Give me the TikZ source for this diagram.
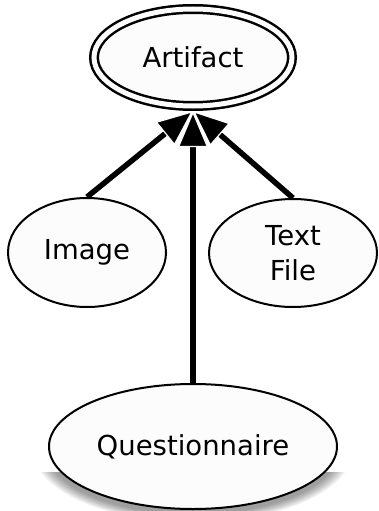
\documentclass[tikz,border=0pt]{standalone}
\usepackage{fontspec}
\setmainfont{DejaVu Sans}
\usetikzlibrary{shapes.geometric,arrows.meta}
\definecolor{bubble}{gray}{0.99}
\tikzset{
  bubble/.style={ellipse, draw=black, fill=bubble, line width=2pt, inner sep=0pt,
    font=\fontsize{27.5}{35}\selectfont, align=center},
  isa/.style={line width=5.5pt,
    -{Triangle[length=36pt,width=30pt,line width=1.2pt,color=white,fill=black]}}
}
\begin{document}
\begin{tikzpicture}[x=1pt,y=-1pt]
  \useasboundingbox (0,0) rectangle (379,511);

  % soft shadow under the bottom ellipse
  \begin{scope}
    \clip (40,472) rectangle (350,511);
    \foreach \i in {0,...,14}
      \fill[black, opacity=0.03] (193,450) ellipse [x radius={146+\i}, y radius={64+0.6*\i}];
  \end{scope}

  % class bubbles
  \node[bubble, double=bubble, double distance=5pt, line width=2.5pt,
        minimum width=198pt, minimum height=97pt, outer sep=5pt] (art) at (193,57.5) {Artifact};
  \node[bubble, minimum width=158pt, minimum height=109pt] (img) at (87,252.5) {Image};
  \node[bubble, minimum width=168pt, minimum height=108pt] (txt) at (293,253) {Text\\File};
  \node[bubble, minimum width=288pt, minimum height=125pt] (que) at (193,446.5) {Questionnaire};

  % generalisation arrows
  \draw[isa] (img.north) -- (art.south);
  \draw[isa] (txt.north) -- (art.south);
  \draw[isa] (que.north) -- (art.south);
\end{tikzpicture}
\end{document}
